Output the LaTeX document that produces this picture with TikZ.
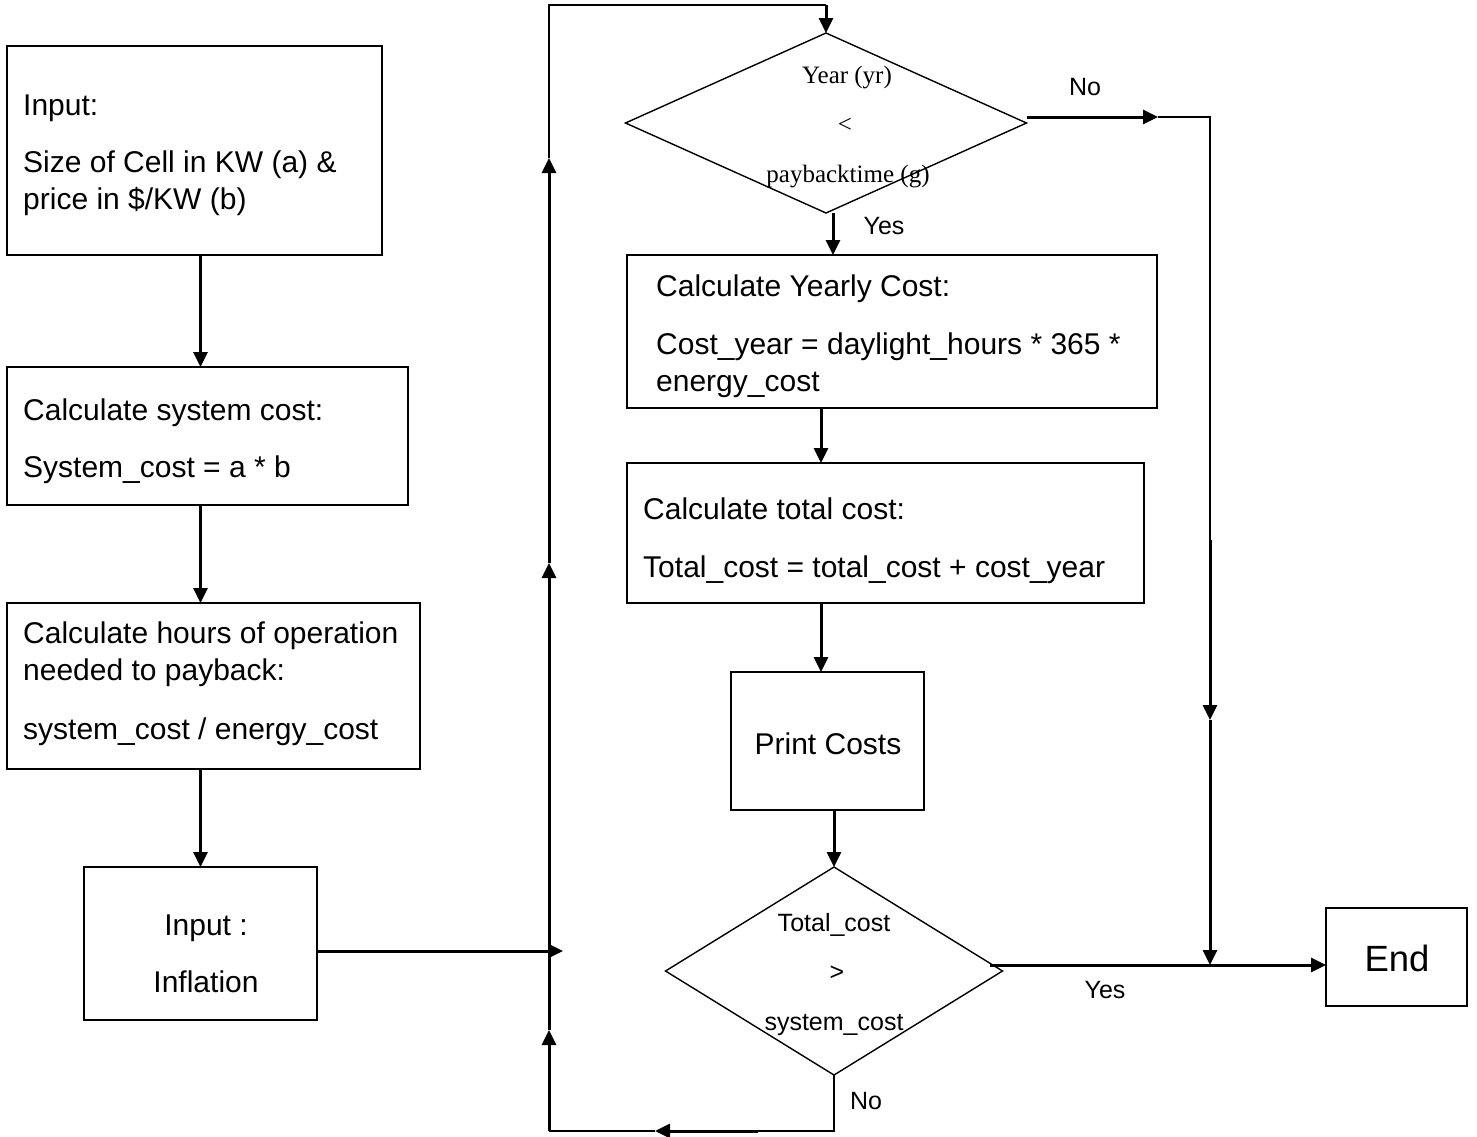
\documentclass[tikz,border=0pt]{standalone}
\usepackage{fontspec}
\setmainfont{Liberation Sans}
\newfontfamily\tnr{Liberation Serif}
\usetikzlibrary{arrows.meta,shapes.geometric,calc}
\begin{document}
\begin{tikzpicture}[x=1pt,y=-1pt,
  box/.style={draw,line width=1.4pt,inner sep=0pt,outer sep=0pt},
  dia/.style={draw,diamond,line width=1.4pt,inner sep=0pt,outer sep=0pt},
  txt/.style={inner sep=0pt,anchor=base west,font=\fontsize{30}{36}\selectfont},
  ctxt/.style={inner sep=0pt,anchor=base,font=\fontsize{30}{36}\selectfont},
  lbl/.style={inner sep=0pt,font=\fontsize{25}{30}\selectfont},
  stxt/.style={inner sep=0pt,font=\tnr\fontsize{25}{30}\selectfont},
  flow/.style={line width=3pt,-{Triangle[length=15pt,width=14pt]}},
  heavy/.style={line width=3pt},
  wire/.style={line width=1.5pt}]
\useasboundingbox (0,0) rectangle (1477,1136);

% boxes
\node[box,minimum width=375,minimum height=209] (b1) at (194.5,150.5) {};
\node[box,minimum width=401,minimum height=138] (b2) at (207.5,436) {};
\node[box,minimum width=413,minimum height=166] (b3) at (213.5,686) {};
\node[box,minimum width=233,minimum height=153] (b4) at (200.5,943.5) {};
\node[box,minimum width=530,minimum height=153] (yc) at (892,331.5) {};
\node[box,minimum width=517,minimum height=140] (tc) at (885.5,533) {};
\node[box,minimum width=193,minimum height=138] (pc) at (827.5,741) {};
\node[box,minimum width=141,minimum height=98] (en) at (1396.5,957) {};
\node[dia,minimum width=401,minimum height=180] (d1) at (826,123) {};
\node[dia,minimum width=337,minimum height=208] (d2) at (834,971) {};

% texts
\node[txt] (t1a) at (23,115) {Input:};
\node[txt] (t1b) at (23,172) {Size of Cell in KW (a) \&};
\node[txt] (t1c) at (23,209) {price in \$/KW (b)};
\node[txt] (t2a) at (23,420) {Calculate system cost:};
\node[txt] (t2b) at (23,477) {System\_cost = a * b};
\node[txt] (t3a) at (23,643) {Calculate hours of operation};
\node[txt] (t3b) at (23,680) {needed to payback:};
\node[txt] (t3c) at (23,739) {system\_cost / energy\_cost};
\node[ctxt] (t4a) at (206,935) {Input :};
\node[ctxt] (t4b) at (206,992) {Inflation};
\node[txt] (tya) at (656,296) {Calculate Yearly Cost:};
\node[txt] (tyb) at (656,354) {Cost\_year = daylight\_hours * 365 *};
\node[txt] (tyc) at (656,391) {energy\_cost};
\node[txt] (tta) at (643,519) {Calculate total cost:};
\node[txt] (ttb) at (643,577) {Total\_cost = total\_cost + cost\_year};
\node[ctxt] (tp) at (828,754) {Print Costs};
\node[ctxt,font=\fontsize{36.5}{44}\selectfont] (te) at (1397,971) {End};

\node[stxt,anchor=base] (d1a) at (847,83) {Year (yr)};
\node[stxt] (d1b) at (845,125) {<};
\node[stxt,anchor=base] (d1c) at (848,182) {paybacktime (g)};
\node[lbl,anchor=base] (d2a) at (834,931) {Total\_cost};
\node[lbl] (d2b) at (837,973) {>};
\node[lbl,anchor=base] (d2c) at (834,1030) {system\_cost};

\node[lbl] (no1) at (1085,87) {No};
\node[lbl] (yes1) at (884,226) {Yes};
\node[lbl] (yes2) at (1105,990) {Yes};
\node[lbl] (no2) at (866,1101) {No};

% coordinates
\coordinate (bl) at (549,1131);
\coordinate (v1) at (549,1030);
\coordinate (v2) at (549,563);
\coordinate (v3) at (549,158);
\coordinate (tl) at (549,5);
\coordinate (tr) at (826,5);
\coordinate (vin) at (563,951);
\coordinate (ya) at (833,213);
\coordinate (xa) at (821,0);
\coordinate (n0) at ($(d1.east)+(0,-6)$);
\coordinate (n1) at (1158,117);
\coordinate (n2) at (1210,117);
\coordinate (n3) at (1210,540);
\coordinate (n4) at (1210,720);
\coordinate (j) at (1210,965);
\coordinate (y0) at (990,965);
\coordinate (b0) at (758,1131);
\coordinate (bc) at (655,1131);

% left column
\draw[flow] (b1.south -| b4.north) -- (b2.north -| b4.north);
\draw[flow] (b2.south -| b4.north) -- (b3.north -| b4.north);
\draw[flow] (b3.south -| b4.north) -- (b4.north);
\draw[flow] (b4.east |- vin) -- (vin);

% loop line
\draw[flow] (bl) -- (v1);
\draw[flow] (v1) -- (v2);
\draw[flow] (v2) -- (v3);
\draw[wire] (v3) -- (tl) -- (tr);
\draw[flow] (tr) -- (d1.north);

% main column
\draw[flow] (ya) -- (ya |- yc.north);
\draw[flow] (yc.south -| xa) -- (tc.north -| xa);
\draw[flow] (tc.south -| xa) -- (pc.north -| xa);
\draw[flow] (pc.south -| d2.north) -- (d2.north);

% No branch of d1
\draw[flow] (n0) -- (n1);
\draw[wire] (n1) -- (n2) -- (n3);
\draw[flow] (n3) -- (n4);
\draw[flow] (n4) -- (j);

% Yes branch of d2
\draw[heavy] (y0) -- (j);
\draw[flow] (j) -- (en.west |- j);

% No branch of d2
\draw[wire] (d2.south) -- (d2.south |- bl) -- (b0);
\draw[flow] (b0) -- (bc);
\draw[wire] (bc) -- (bl);
\end{tikzpicture}
\end{document}
